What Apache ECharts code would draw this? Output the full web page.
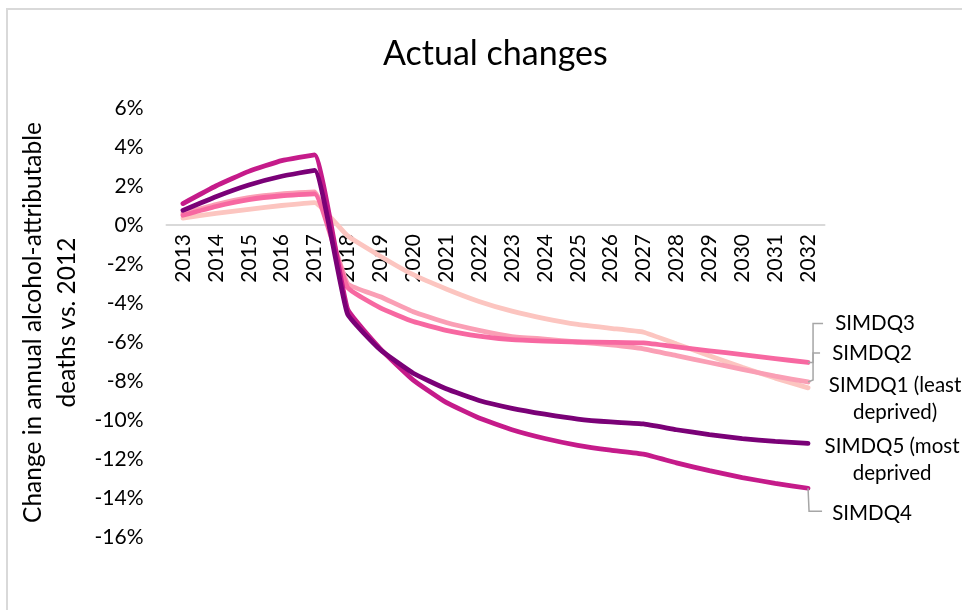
<!DOCTYPE html>
<html><head><meta charset="utf-8">
<script src="https://cdn.jsdelivr.net/npm/echarts@6/dist/echarts.min.js"></script>
<style>html,body{margin:0;padding:0;background:#fff}#c{width:962px;height:610px}</style>
</head><body><div id="c"></div><script>
const years = ['2013','2014','2015','2016','2017','2018','2019','2020','2021','2022','2023','2024','2025','2026','2027','2028','2029','2030','2031','2032'];
const simdq1 = [0.35,0.6,0.8,1.0,1.15,-0.55,-1.6,-2.55,-3.28,-3.92,-4.42,-4.8,-5.1,-5.3,-5.5,-6.1,-6.7,-7.3,-7.85,-8.35];
const simdq2 = [0.6,1.05,1.4,1.6,1.7,-3.0,-3.68,-4.45,-5.0,-5.4,-5.72,-5.85,-6.0,-6.15,-6.35,-6.7,-7.05,-7.4,-7.75,-8.05];
const simdq3 = [0.5,0.95,1.3,1.5,1.6,-3.2,-4.25,-4.95,-5.4,-5.7,-5.88,-5.95,-6.0,-6.02,-6.05,-6.25,-6.45,-6.65,-6.85,-7.05];
const simdq4 = [1.1,2.0,2.75,3.3,3.6,-4.3,-6.35,-7.95,-9.1,-9.9,-10.5,-10.95,-11.3,-11.55,-11.75,-12.2,-12.6,-12.95,-13.25,-13.5];
const simdq5 = [0.75,1.45,2.05,2.5,2.8,-4.55,-6.4,-7.6,-8.4,-9.0,-9.4,-9.7,-9.95,-10.1,-10.2,-10.5,-10.75,-10.95,-11.1,-11.2];
const yTicks = {min:-16, max:6, step:2};
const names = ['SIMDQ1 (least\ndeprived)','SIMDQ2','SIMDQ3','SIMDQ4','SIMDQ5 (most\ndeprived'];
const datasets = [simdq1, simdq2, simdq3, simdq4, simdq5];
const colors = ['#FCC5C0','#FA9FB5','#F768A1','#C51B8A','#7A0177'];
const labelOffsets = [[87,11],[64,-29],[67,-39],[64,25],[84,16]];
const FONT = 'Lato';

const gridTop = 108, gridBottom = 73, H = 610;
const plotH = H - gridTop - gridBottom;
const zeroFromBottom = plotH * (0 - yTicks.min) / (yTicks.max - yTicks.min);

const chart = echarts.init(document.getElementById('c'), null, {renderer:'canvas'});
const series = datasets.map((d,i)=>({
  type:'line', name:names[i], data:d, symbol:'none', smooth:0.12,
  lineStyle:{color:colors[i], width:4.8, cap:'round', join:'round'},
  itemStyle:{color:colors[i]},
  z: 2+i,
  endLabel:{show:true, formatter:names[i], distance:0, align:'center', verticalAlign:'middle',
    offset:labelOffsets[i], fontFamily:FONT, fontSize:20.5, lineHeight:27, color:'#000'}
}));
chart.setOption({
  animation:false,
  backgroundColor:'#fff',
  title:{text:'Actual changes', left:378, top:32, textStyle:{fontFamily:FONT, fontSize:34, fontWeight:'normal', color:'#000'}},
  grid:{left:166.5, right:137.5, top:gridTop, bottom:gridBottom, containLabel:false},
  xAxis:{type:'category', data:years, boundaryGap:true, position:'bottom', offset:-zeroFromBottom,
    axisLine:{onZero:false, lineStyle:{color:'#d9d9d9', width:2}},
    axisTick:{show:false},
    axisLabel:{rotate:90, interval:0, margin:9, fontFamily:FONT, fontSize:21, color:'#000'}},
  yAxis:{type:'value', min:yTicks.min, max:yTicks.max, interval:yTicks.step,
    name:'Change in annual alcohol-attributable\ndeaths vs. 2012', nameLocation:'middle', nameGap:75,
    nameTextStyle:{fontFamily:FONT, fontSize:24.5, lineHeight:34, color:'#000'},
    axisLine:{show:false}, axisTick:{show:false}, splitLine:{show:false},
    axisLabel:{formatter:'{value}%', margin:23, fontFamily:FONT, fontSize:21, color:'#000'}},
  series:series
});
const gray = '#a6a6a6';
const last = years.length-1;
const endPt = i => chart.convertToPixel({seriesIndex:i}, [last, datasets[i][last]]);
const p3 = endPt(2), p2 = endPt(1), p4 = endPt(3);
const graphics = [
  {type:'rect', shape:{x:7, y:9, width:1200, height:900}, style:{fill:'none', stroke:'#d9d9d9', lineWidth:2}, silent:true, z:0},
  {type:'polyline', shape:{points:[[p3[0],p3[1]],[p3[0]+5,p3[1]],[p3[0]+5,p3[1]-39],[p3[0]+15,p3[1]-39]]}, style:{stroke:gray, lineWidth:1.5, fill:'none'}, z:10},
  {type:'polyline', shape:{points:[[p2[0],p2[1]],[p2[0]+5,p2[1]-2],[p2[0]+5,p2[1]-29],[p2[0]+12,p2[1]-29]]}, style:{stroke:gray, lineWidth:1.5, fill:'none'}, z:10},
  {type:'polyline', shape:{points:[[p4[0],p4[1]],[p4[0]+1,p4[1]+23],[p4[0]+14,p4[1]+23]]}, style:{stroke:gray, lineWidth:1.5, fill:'none'}, z:10}
];
chart.setOption({graphic:graphics});
</script></body></html>
